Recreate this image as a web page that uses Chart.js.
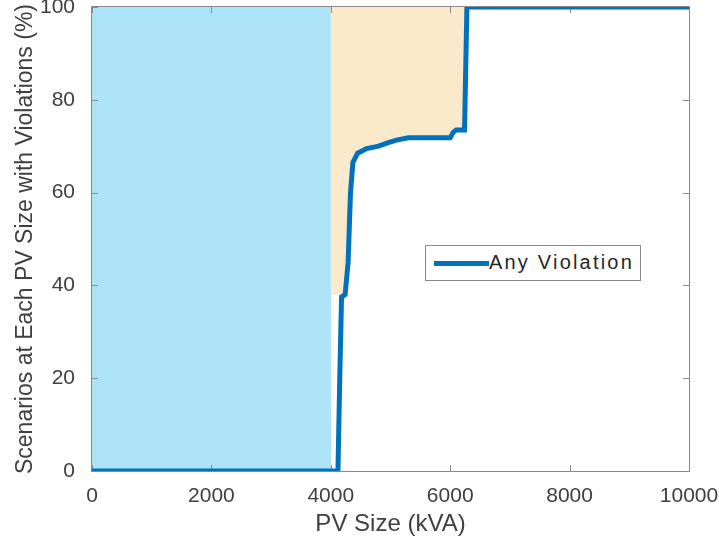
<!DOCTYPE html>
<html>
<head>
<meta charset="utf-8">
<script src="https://cdn.jsdelivr.net/npm/chart.js@4.4.0/dist/chart.umd.min.js"></script>
<style>
  html, body { margin: 0; padding: 0; background: #fff; }
  #wrap { position: relative; width: 719px; height: 544px; }
  #legend {
    position: absolute; left: 425px; top: 245px; width: 214px; height: 34px;
    border: 1px solid #8a8a8a; background: #fff;
    font-family: "Liberation Sans", Arial, sans-serif; font-size: 20px; letter-spacing: 2.2px; color: #262626;
  }
  #legend .swatch { position: absolute; left: 8px; top: 15px; width: 55px; height: 5px; background: #0072BD; }
  #legend .txt { position: absolute; left: 63px; top: 5px; white-space: nowrap; }
</style>
</head>
<body>
<div id="wrap">
  <canvas id="pv-chart" width="719" height="544"></canvas>
  <div id="legend"><div class="swatch"></div><div class="txt">Any Violation</div></div>
</div>
<script>
// main curve: % of scenarios with any violation vs PV size
var pvSize    = [0, 4120, 4150, 4180, 4240, 4290, 4330, 4370, 4450, 4600, 4800, 4950, 5100, 5300, 6000, 6050, 6100, 6240, 6280, 10000];
var violation = [0, 0,    20,   37.5, 38,   45,   60,   66.5, 68.5, 69.5, 70,   70.7, 71.3, 71.8, 71.8, 73,   73.5, 73.5, 100,  100];

// shaded regions
var blueX   = [0, 4010];
var blueY   = [0, 0];
var orangeX = [3995, 4260, 4290, 4330, 4370, 4450, 4600, 4800, 4950, 5100, 5300, 6000, 6050, 6100, 6240, 6280];
var orangeY = [38,   38,   45,   60,   66.5, 68.5, 69.5, 70,   70.7, 71.3, 71.8, 71.8, 73,   73.5, 73.5, 100];

var xTicks = [0, 2000, 4000, 6000, 8000, 10000];
var yTicks = [0, 20, 40, 60, 80, 100];

function pts(xs, ys) {
    return xs.map(function (x, i) { return { x: x, y: ys[i] }; });
}

var textColor = '#404040';
var axisColor = '#8a8a8a';

// box around plot area and inward ticks (MATLAB style)
var boxPlugin = {
    id: 'box',
    beforeDatasetsDraw: function (chart) {
        var a = chart.chartArea, ctx = chart.ctx;
        ctx.save();
        ctx.strokeStyle = axisColor;
        ctx.lineWidth = 1;
        ctx.strokeRect(a.left - 0.5, a.top - 0.5, a.right - a.left + 1, a.bottom - a.top + 1);
        ctx.restore();
    },
    beforeDatasetDraw: function (chart, args) {
        if (args.index !== 0) return;
        var a = chart.chartArea, ctx = chart.ctx;
        var xs = chart.scales.x, ys = chart.scales.y;
        ctx.save();
        ctx.strokeStyle = axisColor;
        ctx.lineWidth = 1;
        ctx.beginPath();
        xTicks.forEach(function (t) {
            var px = Math.round(xs.getPixelForValue(t)) + 0.5;
            ctx.moveTo(px, a.bottom); ctx.lineTo(px, a.bottom - 6);
            ctx.moveTo(px, a.top); ctx.lineTo(px, a.top + 6);
        });
        yTicks.forEach(function (t) {
            var py = Math.round(ys.getPixelForValue(t)) + 0.5;
            ctx.moveTo(a.left, py); ctx.lineTo(a.left + 6, py);
            ctx.moveTo(a.right, py); ctx.lineTo(a.right - 6, py);
        });
        ctx.stroke();
        ctx.restore();
    }
};

var ctx = document.getElementById('pv-chart').getContext('2d');
var config = {
    type: 'line',
    data: {
        datasets: [{
            label: 'Any Violation',
            data: pts(pvSize, violation),
            borderColor: '#0072BD',
            borderWidth: 5,
            pointRadius: 0,
            fill: false,
            order: 0
        }, {
            label: 'orange',
            data: pts(orangeX, orangeY),
            borderWidth: 0,
            pointRadius: 0,
            backgroundColor: '#FBE9CB',
            fill: 'end',
            order: 1
        }, {
            label: 'blue',
            data: pts(blueX, blueY),
            borderWidth: 0,
            pointRadius: 0,
            backgroundColor: '#ADE3F7',
            fill: 'end',
            order: 2
        }]
    },
    options: {
        responsive: false,
        animation: false,
        layout: { padding: { top: 7, right: 30, left: 0, bottom: 0 } },
        plugins: {
            legend: { display: false },
            tooltip: { enabled: false }
        },
        scales: {
            x: {
                type: 'linear',
                min: 0,
                max: 10000,
                afterBuildTicks: function (s) { s.ticks = xTicks.map(function (v) { return { value: v }; }); },
                afterFit: function (s) { s.height = 73; s.paddingLeft = 0; s.paddingRight = 0; },
                grid: { display: false },
                border: { display: false },
                ticks: {
                    padding: 5,
                    color: textColor,
                    maxRotation: 0,
                    font: { family: 'Liberation Sans', size: 21 },
                    callback: function (v) { return String(v); }
                },
                title: {
                    display: true,
                    text: 'PV Size (kVA)',
                    color: textColor,
                    padding: { top: 5, bottom: 5 },
                    font: { family: 'Liberation Sans', size: 24 }
                }
            },
            y: {
                min: 0,
                max: 100,
                afterBuildTicks: function (s) { s.ticks = yTicks.map(function (v) { return { value: v }; }); },
                afterFit: function (s) { s.width = 92; s.paddingTop = 0; s.paddingBottom = 0; },
                grid: { display: false },
                border: { display: false },
                ticks: {
                    padding: 9,
                    color: textColor,
                    font: { family: 'Liberation Sans', size: 21 },
                    callback: function (v) { return String(v); }
                },
                title: {
                    display: true,
                    text: 'Scenarios at Each PV Size with Violations (%)',
                    color: textColor,
                    padding: { top: 12, bottom: 4 },
                    font: { family: 'Liberation Sans', size: 23 }
                }
            }
        }
    },
    plugins: [boxPlugin]
};

var chart = new Chart(ctx, config);
</script>
</body>
</html>
